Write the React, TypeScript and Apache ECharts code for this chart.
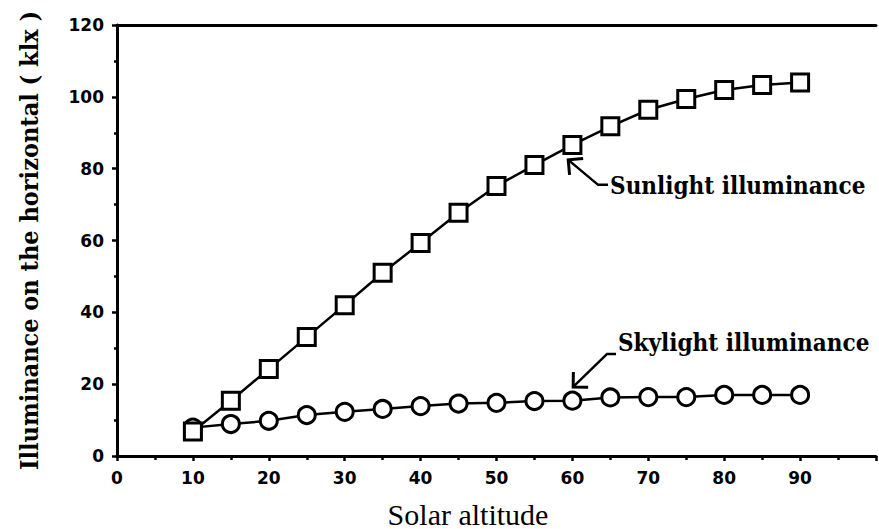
import React, { useEffect, useRef } from "react";
import * as echarts from "echarts";

const altitudes = [10, 15, 20, 25, 30, 35, 40, 45, 50, 55, 60, 65, 70, 75, 80, 85, 90];
const sunlight = [6.8, 15.4, 24.2, 33.1, 42.0, 51.0, 59.3, 67.7, 75.2, 81.0, 86.6, 91.8, 96.4, 99.4, 101.9, 103.3, 104.0];
const skylight = [7.9, 8.9, 9.8, 11.4, 12.3, 13.1, 13.9, 14.6, 14.8, 15.3, 15.4, 16.3, 16.4, 16.4, 17.0, 17.0, 17.0];

const yTicks = [0, 20, 40, 60, 80, 100, 120];
const xTicks = [0, 10, 20, 30, 40, 50, 60, 70, 80, 90];

// annotations in data coordinates: arrow tip, elbow, end of leader, text anchor
const sunNote = { label: "Sunlight illuminance", tip: [59.45, 82.45], elbow: [63.39, 75.49], end: [64.7, 75.49], text: [64.96, 75.2] };
const skyNote = { label: "Skylight illuminance", tip: [60.1, 19.22], elbow: [64.57, 28.41], end: [65.75, 28.41], text: [66.0, 31.6] };

const slab = "'DejaVu Serif Condensed', 'DejaVu Serif', serif";

export default function App() {
  const ref = useRef<HTMLDivElement>(null);
  useEffect(() => {
    const chart = echarts.init(ref.current!, null, { renderer: "svg" });
    const tickLabel = { color: "#000", fontFamily: "'DejaVu Sans', sans-serif", fontWeight: "bold", fontSize: 17 };
    chart.setOption({
      animation: false,
      backgroundColor: "#fff",
      grid: { left: 117, right: 1, top: 25, bottom: 73, containLabel: false },
      xAxis: [
        {
          type: "value",
          min: 0,
          max: 100,
          interval: 10,
          axisLine: { show: true, lineStyle: { color: "#000", width: 3 } },
          axisTick: { show: true, length: 5, inside: false, lineStyle: { color: "#000", width: 2.5 } },
          minorTick: { show: true, splitNumber: 2, length: 4, lineStyle: { color: "#000", width: 2.5 } },
          splitLine: { show: false },
          axisLabel: {
            ...tickLabel,
            margin: 13,
            formatter: (v: number) => (xTicks.indexOf(v) >= 0 ? String(v) : ""),
          },
        },
        {
          type: "value",
          position: "top",
          min: 0,
          max: 100,
          axisLine: { show: true, lineStyle: { color: "#000", width: 3 } },
          axisTick: { show: false },
          axisLabel: { show: false },
          splitLine: { show: false },
        },
      ],
      yAxis: {
        type: "value",
        min: 0,
        max: 120,
        interval: 20,
        axisLine: { show: true, lineStyle: { color: "#000", width: 3 } },
        axisTick: { show: true, length: 5, lineStyle: { color: "#000", width: 2.5 } },
        minorTick: { show: true, splitNumber: 2, length: 3, lineStyle: { color: "#000", width: 2.5 } },
        splitLine: { show: false },
        axisLabel: {
          ...tickLabel,
          margin: 13,
          formatter: (v: number) => (yTicks.indexOf(v) >= 0 ? String(v) : ""),
        },
        name: "Illuminance on the horizontal ( klx )",
        nameLocation: "middle",
        nameGap: 75,
        nameTextStyle: { color: "#000", fontFamily: slab, fontWeight: "bold", fontSize: 25 },
      },
      series: [
        {
          name: "Skylight illuminance",
          type: "line",
          data: altitudes.map((a, i) => [a, skylight[i]]),
          symbol: "circle",
          symbolSize: 17,
          lineStyle: { color: "#000", width: 2.5 },
          itemStyle: { color: "#fff", borderColor: "#000", borderWidth: 3 },
          z: 2,
        },
        {
          name: "Sunlight illuminance",
          type: "line",
          data: altitudes.map((a, i) => [a, sunlight[i]]),
          symbol: "rect",
          symbolSize: 17,
          lineStyle: { color: "#000", width: 2.5 },
          itemStyle: { color: "#fff", borderColor: "#000", borderWidth: 3 },
          z: 3,
        },
      ],
    });

    const px = (p: number[]) => chart.convertToPixel({ xAxisIndex: 0, yAxisIndex: 0 }, p) as number[];
    const noteGraphics = (n: typeof sunNote) => {
      const tip = px(n.tip);
      const elbow = px(n.elbow);
      const end = px(n.end);
      const t = px(n.text);
      const dx = elbow[0] - tip[0];
      const dy = elbow[1] - tip[1];
      const len = Math.hypot(dx, dy);
      const ux = dx / len;
      const uy = dy / len;
      const arm = 15;
      const rot = (a: number) => [
        tip[0] + arm * (ux * Math.cos(a) - uy * Math.sin(a)),
        tip[1] + arm * (ux * Math.sin(a) + uy * Math.cos(a)),
      ];
      const a1 = rot(Math.PI / 4);
      const a2 = rot(-Math.PI / 4);
      return [
        { type: "polyline", shape: { points: [tip, elbow, end] }, style: { stroke: "#000", lineWidth: 2.5, fill: null }, z: 10 },
        { type: "polyline", shape: { points: [a1, tip, a2] }, style: { stroke: "#000", lineWidth: 3, fill: null }, z: 10 },
        {
          type: "text",
          x: t[0],
          y: t[1],
          style: {
            text: n.label,
            fill: "#000",
            font: `bold 24px ${slab}`,
            align: "left",
            verticalAlign: "middle",
          },
          z: 10,
        },
      ];
    };
    chart.setOption({
      graphic: [
        ...noteGraphics(sunNote),
        ...noteGraphics(skyNote),
        {
          type: "text",
          x: 468,
          y: 514,
          style: {
            text: "Solar altitude",
            fill: "#000",
            font: "30px 'Liberation Serif', 'Times New Roman', serif",
            align: "center",
            verticalAlign: "middle",
          },
        },
      ],
    });
    return () => chart.dispose();
  }, []);
  return <div ref={ref} style={{ position: "fixed", left: 0, top: 0, width: 879, height: 529 }} />;
}
